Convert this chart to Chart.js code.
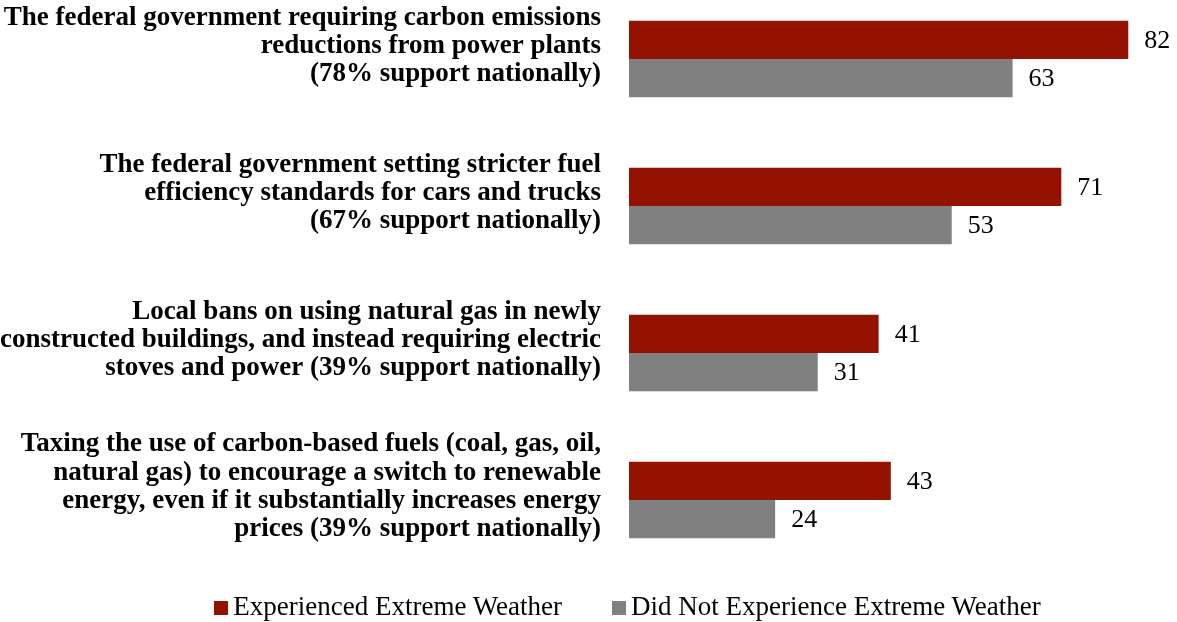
<!DOCTYPE html>
<html>
<head>
<meta charset="utf-8">
<script src="https://cdn.jsdelivr.net/npm/chart.js@4/dist/chart.umd.min.js"></script>
<style>
  html, body { margin: 0; padding: 0; background: #fff; }
  #wrap { position: relative; width: 1177px; height: 622px; }
  #legend {
    position: absolute; left: 78px; right: 0; top: 591px;
    display: flex; justify-content: center; gap: 50px;
    font: 27px "Times New Roman", "Liberation Serif", serif; color: #000;
    line-height: 30px;
  }
  #legend span.box { display: inline-block; width: 14px; height: 14px; margin-right: 5px; vertical-align: 0px; }
</style>
</head>
<body>
<div id="wrap">
  <canvas id="barChart" width="1177" height="622"></canvas>
  <div id="legend"></div>
</div>
<script>
const categories = [
    ['The federal government requiring carbon emissions', 'reductions from power plants', '(78% support nationally)'],
    ['The federal government setting stricter fuel', 'efficiency standards for cars and trucks', '(67% support nationally)'],
    ['Local bans on using natural gas in newly', 'constructed buildings, and instead requiring electric', 'stoves and power (39% support nationally)'],
    ['Taxing the use of carbon-based fuels (coal, gas, oil,', 'natural gas) to encourage a switch to renewable', 'energy, even if it substantially increases energy', 'prices (39% support nationally)']
];
const seriesNames = ['Experienced Extreme Weather', 'Did Not Experience Extreme Weather'];
const experienced = [82, 71, 41, 43];
const notExperienced = [63, 53, 31, 24];

const serif = '"Times New Roman", "Liberation Serif", serif';

// value labels to the right of each bar
const valueLabels = {
    id: 'valueLabels',
    afterDatasetsDraw(chart) {
        const ctx = chart.ctx;
        ctx.save();
        ctx.font = '26px ' + serif;
        ctx.fillStyle = '#000';
        ctx.textAlign = 'left';
        ctx.textBaseline = 'middle';
        chart.data.datasets.forEach((ds, i) => {
            chart.getDatasetMeta(i).data.forEach((bar, j) => {
                ctx.fillText(ds.data[j], bar.x + 16, bar.y + 1);
            });
        });
        ctx.restore();
    }
};

const myChart = new Chart(document.getElementById('barChart'), {
    type: 'bar',
    data: {
        labels: categories,
        datasets: [{
            label: seriesNames[0],
            data: experienced,
            backgroundColor: '#941200',
            borderWidth: 0,
            categoryPercentage: 0.52,
            barPercentage: 1.0,
            clip: false
        }, {
            label: seriesNames[1],
            data: notExperienced,
            backgroundColor: '#808080',
            borderWidth: 0,
            categoryPercentage: 0.52,
            barPercentage: 1.0,
            clip: false
        }]
    },
    options: {
        indexAxis: 'y',
        responsive: false,
        animation: false,
        layout: {
            padding: { top: 59, bottom: 122, left: 0, right: 0 }
        },
        plugins: {
            legend: { display: false },
            tooltip: { enabled: false }
        },
        scales: {
            x: {
                display: false,
                min: 0,
                max: 90
            },
            y: {
                offset: false,
                grid: { display: false },
                border: { display: false },
                ticks: {
                    color: '#000',
                    padding: 20,
                    labelOffset: -13,
                    font: { family: serif, size: 27, weight: 'bold', lineHeight: 1.05 }
                },
                afterFit: axis => {
                    axis.width = 629;
                    axis.paddingTop = 0;
                    axis.paddingBottom = 0;
                }
            }
        }
    },
    plugins: [valueLabels]
});

// html legend built from the datasets
const legendEl = document.getElementById('legend');
myChart.data.datasets.forEach(ds => {
    const item = document.createElement('div');
    const box = document.createElement('span');
    box.className = 'box';
    box.style.background = ds.backgroundColor;
    item.appendChild(box);
    item.appendChild(document.createTextNode(ds.label));
    legendEl.appendChild(item);
});
</script>
</body>
</html>
